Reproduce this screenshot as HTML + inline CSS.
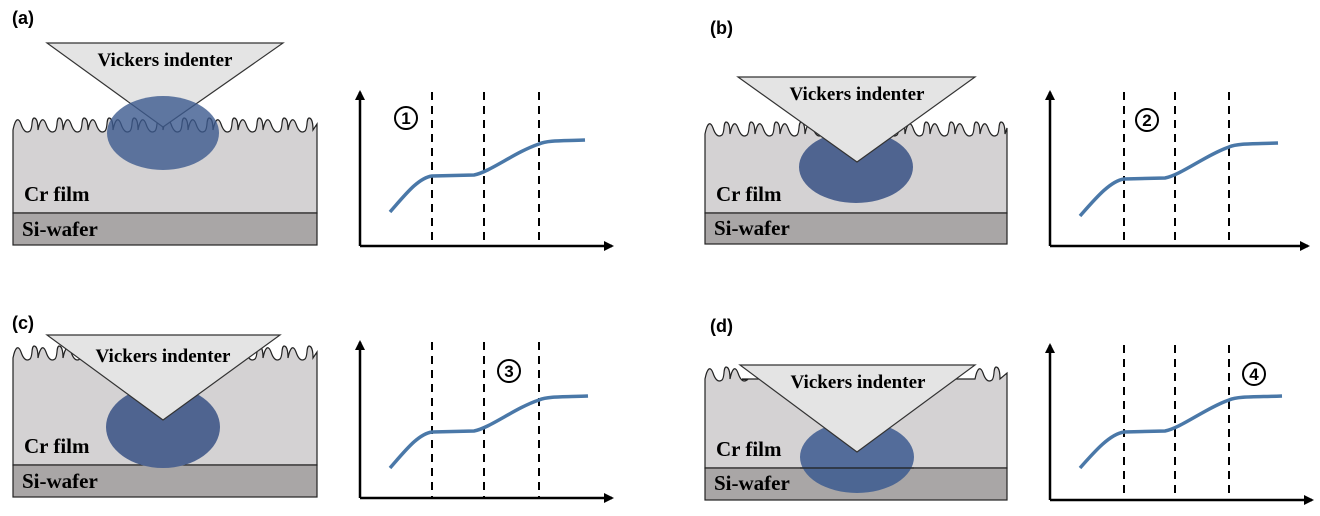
<!DOCTYPE html>
<html><head><style>
html,body{margin:0;padding:0;background:#fff;}
svg{display:block}
.lbl{font-family:"Liberation Sans",sans-serif;font-weight:bold;font-size:18px;fill:#000}
.vi{font-family:"Liberation Serif",serif;font-weight:bold;font-size:19px;fill:#000}
.cr{font-family:"Liberation Serif",serif;font-weight:bold;font-size:21px;fill:#000}
.num{font-family:"Liberation Sans",sans-serif;font-weight:bold;font-size:17px;fill:#000}
</style></head><body>
<svg width="1320" height="516" viewBox="0 0 1320 516" xmlns="http://www.w3.org/2000/svg">
<defs>
<marker id="ar" markerWidth="10" markerHeight="10" refX="8" refY="5" orient="auto" markerUnits="userSpaceOnUse">
<path d="M0,0 L10,5 L0,10 z" fill="#000"/></marker>
</defs>

<!-- Panel (a) -->
<text class="lbl" x="12" y="24">(a)</text>
<path d="M13 213 L13 130 c2 -10 5 -14 8 -6 c2 6 5 10 9 7 c3 -3 1 -12 4 -13 c3 0 4 6 4 12 c2 -10 5 -14 8 -6 c2 6 5 10 9 7 c3 -3 1 -12 4 -13 c3 0 4 6 4 12 c2 -10 5 -14 8 -6 c2 6 5 10 9 7 c3 -3 1 -12 4 -13 c3 0 4 6 4 12 c2 -10 5 -14 8 -6 c2 6 5 10 9 7 c3 -3 1 -12 4 -13 c3 0 4 6 4 12 c2 -10 5 -14 8 -6 c2 6 5 10 9 7 c3 -3 1 -12 4 -13 c3 0 4 6 4 12 c2 -10 5 -14 8 -6 c2 6 5 10 9 7 c3 -3 1 -12 4 -13 c3 0 4 6 4 12 c2 -10 5 -14 8 -6 c2 6 5 10 9 7 c3 -3 1 -12 4 -13 c3 0 4 6 4 12 c2 -10 5 -14 8 -6 c2 6 5 10 9 7 c3 -3 1 -12 4 -13 c3 0 4 6 4 12 c2 -10 5 -14 8 -6 c2 6 5 10 9 7 c3 -3 1 -12 4 -13 c3 0 4 6 4 12 c2 -10 5 -14 8 -6 c2 6 5 10 9 7 c3 -3 1 -12 4 -13 c3 0 4 6 4 12 c2 -10 5 -14 8 -6 c2 6 5 10 9 7 c3 -3 1 -12 4 -13 c3 0 4 6 4 12 c2 -10 5 -14 8 -6 c2 6 5 10 9 7 c3 -3 1 -12 4 -13 c3 0 4 6 4 12 L317 124 L317 213 Z" fill="#d4d2d3" stroke="#222" stroke-width="1.2"/>
<rect x="13" y="213" width="304" height="32" fill="#a9a6a6" stroke="#222" stroke-width="1.2"/>
<polygon points="47,43 283,43 163,127" fill="#e4e4e4" stroke="#333" stroke-width="1.2"/>
<ellipse cx="163" cy="133" rx="56" ry="37" fill="#3c5a8f" fill-opacity="0.8"/>
<text class="vi" x="165" y="66" text-anchor="middle">Vickers indenter</text>
<text class="cr" x="24" y="201">Cr film</text>
<text class="cr" x="22" y="236">Si-wafer</text>
<g stroke="#000" stroke-width="2.5" fill="none">
<line x1="360" y1="246" x2="360" y2="92" marker-end="url(#ar)"/>
<line x1="360" y1="246" x2="612" y2="246" marker-end="url(#ar)"/>
</g>
<g stroke="#000" stroke-width="2" stroke-dasharray="8,6"><line x1="432" y1="92" x2="432" y2="246"/><line x1="484" y1="92" x2="484" y2="246"/><line x1="539" y1="92" x2="539" y2="246"/></g>
<path d="M390 212 C405 195 418 178 432 176 L474 175 C490 172 515 152 539 144 C548 140 565 141 585 140" fill="none" stroke="#4a78a8" stroke-width="3.5"/>
<circle cx="406" cy="118" r="11" fill="#fff" stroke="#000" stroke-width="2"/><text class="num" x="406" y="124" text-anchor="middle">1</text>

<!-- Panel (b) -->
<text class="lbl" x="710" y="34">(b)</text>
<path d="M705 213 L705 134 c2 -10 5 -14 8 -6 c2 6 5 10 9 7 c3 -3 1 -12 4 -13 c3 0 4 6 4 12 c2 -10 5 -14 8 -6 c2 6 5 10 9 7 c3 -3 1 -12 4 -13 c3 0 4 6 4 12 c2 -10 5 -14 8 -6 c2 6 5 10 9 7 c3 -3 1 -12 4 -13 c3 0 4 6 4 12 c2 -10 5 -14 8 -6 c2 6 5 10 9 7 c3 -3 1 -12 4 -13 c3 0 4 6 4 12 c2 -10 5 -14 8 -6 c2 6 5 10 9 7 c3 -3 1 -12 4 -13 c3 0 4 6 4 12 c2 -10 5 -14 8 -6 c2 6 5 10 9 7 c3 -3 1 -12 4 -13 c3 0 4 6 4 12 c2 -10 5 -14 8 -6 c2 6 5 10 9 7 c3 -3 1 -12 4 -13 c3 0 4 6 4 12 c2 -10 5 -14 8 -6 c2 6 5 10 9 7 c3 -3 1 -12 4 -13 c3 0 4 6 4 12 c2 -10 5 -14 8 -6 c2 6 5 10 9 7 c3 -3 1 -12 4 -13 c3 0 4 6 4 12 c2 -10 5 -14 8 -6 c2 6 5 10 9 7 c3 -3 1 -12 4 -13 c3 0 4 6 4 12 c2 -10 5 -14 8 -6 c2 6 5 10 9 7 c3 -3 1 -12 4 -13 c3 0 4 6 4 12 c2 -10 5 -14 8 -6 c2 6 5 10 9 7 c3 -3 1 -12 4 -13 c3 0 4 6 4 12 L1007 128 L1007 213 Z" fill="#d4d2d3" stroke="#222" stroke-width="1.2"/>
<rect x="705" y="213" width="302" height="31" fill="#a9a6a6" stroke="#222" stroke-width="1.2"/>
<ellipse cx="856" cy="167" rx="57" ry="36" fill="#4f6490"/>
<polygon points="738,77 975,77 857,162" fill="#e4e4e4" stroke="#333" stroke-width="1.2"/>
<text class="vi" x="857" y="100" text-anchor="middle">Vickers indenter</text>
<text class="cr" x="716" y="201">Cr film</text>
<text class="cr" x="714" y="235">Si-wafer</text>
<g stroke="#000" stroke-width="2.5" fill="none">
<line x1="1050" y1="246" x2="1050" y2="92" marker-end="url(#ar)"/>
<line x1="1050" y1="246" x2="1308" y2="246" marker-end="url(#ar)"/>
</g>
<g stroke="#000" stroke-width="2" stroke-dasharray="8,6"><line x1="1124" y1="92" x2="1124" y2="246"/><line x1="1175" y1="92" x2="1175" y2="246"/><line x1="1229" y1="92" x2="1229" y2="246"/></g>
<path d="M1080 216 C1095 199 1110 181 1124 179 L1165 178 C1181 175 1206 155 1229 147 C1238 143 1258 144 1278 143" fill="none" stroke="#4a78a8" stroke-width="3.5"/>
<circle cx="1147" cy="120" r="11" fill="#fff" stroke="#000" stroke-width="2"/><text class="num" x="1147" y="126" text-anchor="middle">2</text>

<!-- Panel (c) -->
<text class="lbl" x="12" y="329">(c)</text>
<path d="M13 465 L13 358 c2 -10 5 -14 8 -6 c2 6 5 10 9 7 c3 -3 1 -12 4 -13 c3 0 4 6 4 12 c2 -10 5 -14 8 -6 c2 6 5 10 9 7 c3 -3 1 -12 4 -13 c3 0 4 6 4 12 c2 -10 5 -14 8 -6 c2 6 5 10 9 7 c3 -3 1 -12 4 -13 c3 0 4 6 4 12 c2 -10 5 -14 8 -6 c2 6 5 10 9 7 c3 -3 1 -12 4 -13 c3 0 4 6 4 12 c2 -10 5 -14 8 -6 c2 6 5 10 9 7 c3 -3 1 -12 4 -13 c3 0 4 6 4 12 c2 -10 5 -14 8 -6 c2 6 5 10 9 7 c3 -3 1 -12 4 -13 c3 0 4 6 4 12 c2 -10 5 -14 8 -6 c2 6 5 10 9 7 c3 -3 1 -12 4 -13 c3 0 4 6 4 12 c2 -10 5 -14 8 -6 c2 6 5 10 9 7 c3 -3 1 -12 4 -13 c3 0 4 6 4 12 c2 -10 5 -14 8 -6 c2 6 5 10 9 7 c3 -3 1 -12 4 -13 c3 0 4 6 4 12 c2 -10 5 -14 8 -6 c2 6 5 10 9 7 c3 -3 1 -12 4 -13 c3 0 4 6 4 12 c2 -10 5 -14 8 -6 c2 6 5 10 9 7 c3 -3 1 -12 4 -13 c3 0 4 6 4 12 c2 -10 5 -14 8 -6 c2 6 5 10 9 7 c3 -3 1 -12 4 -13 c3 0 4 6 4 12 L317 352 L317 465 Z" fill="#d4d2d3" stroke="#222" stroke-width="1.2"/>
<rect x="13" y="465" width="304" height="32" fill="#a9a6a6" stroke="#222" stroke-width="1.2"/>
<ellipse cx="163" cy="427" rx="57" ry="41" fill="#4f6490"/>
<polygon points="47,335 280,335 163,420" fill="#e4e4e4" stroke="#333" stroke-width="1.2"/>
<text class="vi" x="163" y="362" text-anchor="middle">Vickers indenter</text>
<text class="cr" x="24" y="453">Cr film</text>
<text class="cr" x="22" y="488">Si-wafer</text>
<g stroke="#000" stroke-width="2.5" fill="none">
<line x1="360" y1="498" x2="360" y2="342" marker-end="url(#ar)"/>
<line x1="360" y1="498" x2="612" y2="498" marker-end="url(#ar)"/>
</g>
<g stroke="#000" stroke-width="2" stroke-dasharray="8,6"><line x1="432" y1="342" x2="432" y2="498"/><line x1="484" y1="342" x2="484" y2="498"/><line x1="539" y1="342" x2="539" y2="498"/></g>
<path d="M390 468 C405 451 418 434 432 432 L474 431 C490 428 515 408 539 400 C548 396 568 397 588 396" fill="none" stroke="#4a78a8" stroke-width="3.5"/>
<circle cx="509" cy="371" r="11" fill="#fff" stroke="#000" stroke-width="2"/><text class="num" x="509" y="377" text-anchor="middle">3</text>

<!-- Panel (d) -->
<text class="lbl" x="710" y="332">(d)</text>
<path d="M705 468 L705 379 c2 -10 5 -14 8 -6 c2 6 5 10 9 7 c3 -3 1 -12 4 -13 c3 0 4 6 4 12 c2 -10 5 -14 8 -6 c2 6 5 10 9 7 L742 379 L975 379 c2 -10 5 -14 8 -6 c2 6 5 10 9 7 c3 -3 1 -12 4 -13 c3 0 4 6 4 12 L1007 373 L1007 468 Z" fill="#d4d2d3" stroke="#222" stroke-width="1.2"/>
<rect x="705" y="468" width="302" height="32" fill="#a9a6a6" stroke="#222" stroke-width="1.2"/>
<ellipse cx="857" cy="457" rx="57" ry="36" fill="#3c5a8f" fill-opacity="0.85"/>
<line x1="800" y1="468" x2="914" y2="468" stroke="#222" stroke-width="1.2"/>
<polygon points="740,365 975,365 857,452" fill="#e4e4e4" stroke="#333" stroke-width="1.2"/>
<text class="vi" x="858" y="388" text-anchor="middle">Vickers indenter</text>
<text class="cr" x="716" y="456">Cr film</text>
<text class="cr" x="714" y="490">Si-wafer</text>
<g stroke="#000" stroke-width="2.5" fill="none">
<line x1="1050" y1="500" x2="1050" y2="345" marker-end="url(#ar)"/>
<line x1="1050" y1="500" x2="1312" y2="500" marker-end="url(#ar)"/>
</g>
<g stroke="#000" stroke-width="2" stroke-dasharray="8,6"><line x1="1124" y1="345" x2="1124" y2="500"/><line x1="1175" y1="345" x2="1175" y2="500"/><line x1="1229" y1="345" x2="1229" y2="500"/></g>
<path d="M1080 468 C1095 451 1110 434 1124 432 L1165 431 C1181 428 1206 408 1229 400 C1238 396 1258 397 1282 396" fill="none" stroke="#4a78a8" stroke-width="3.5"/>
<circle cx="1254" cy="374" r="11" fill="#fff" stroke="#000" stroke-width="2"/><text class="num" x="1254" y="380" text-anchor="middle">4</text>
</svg>
</body></html>
